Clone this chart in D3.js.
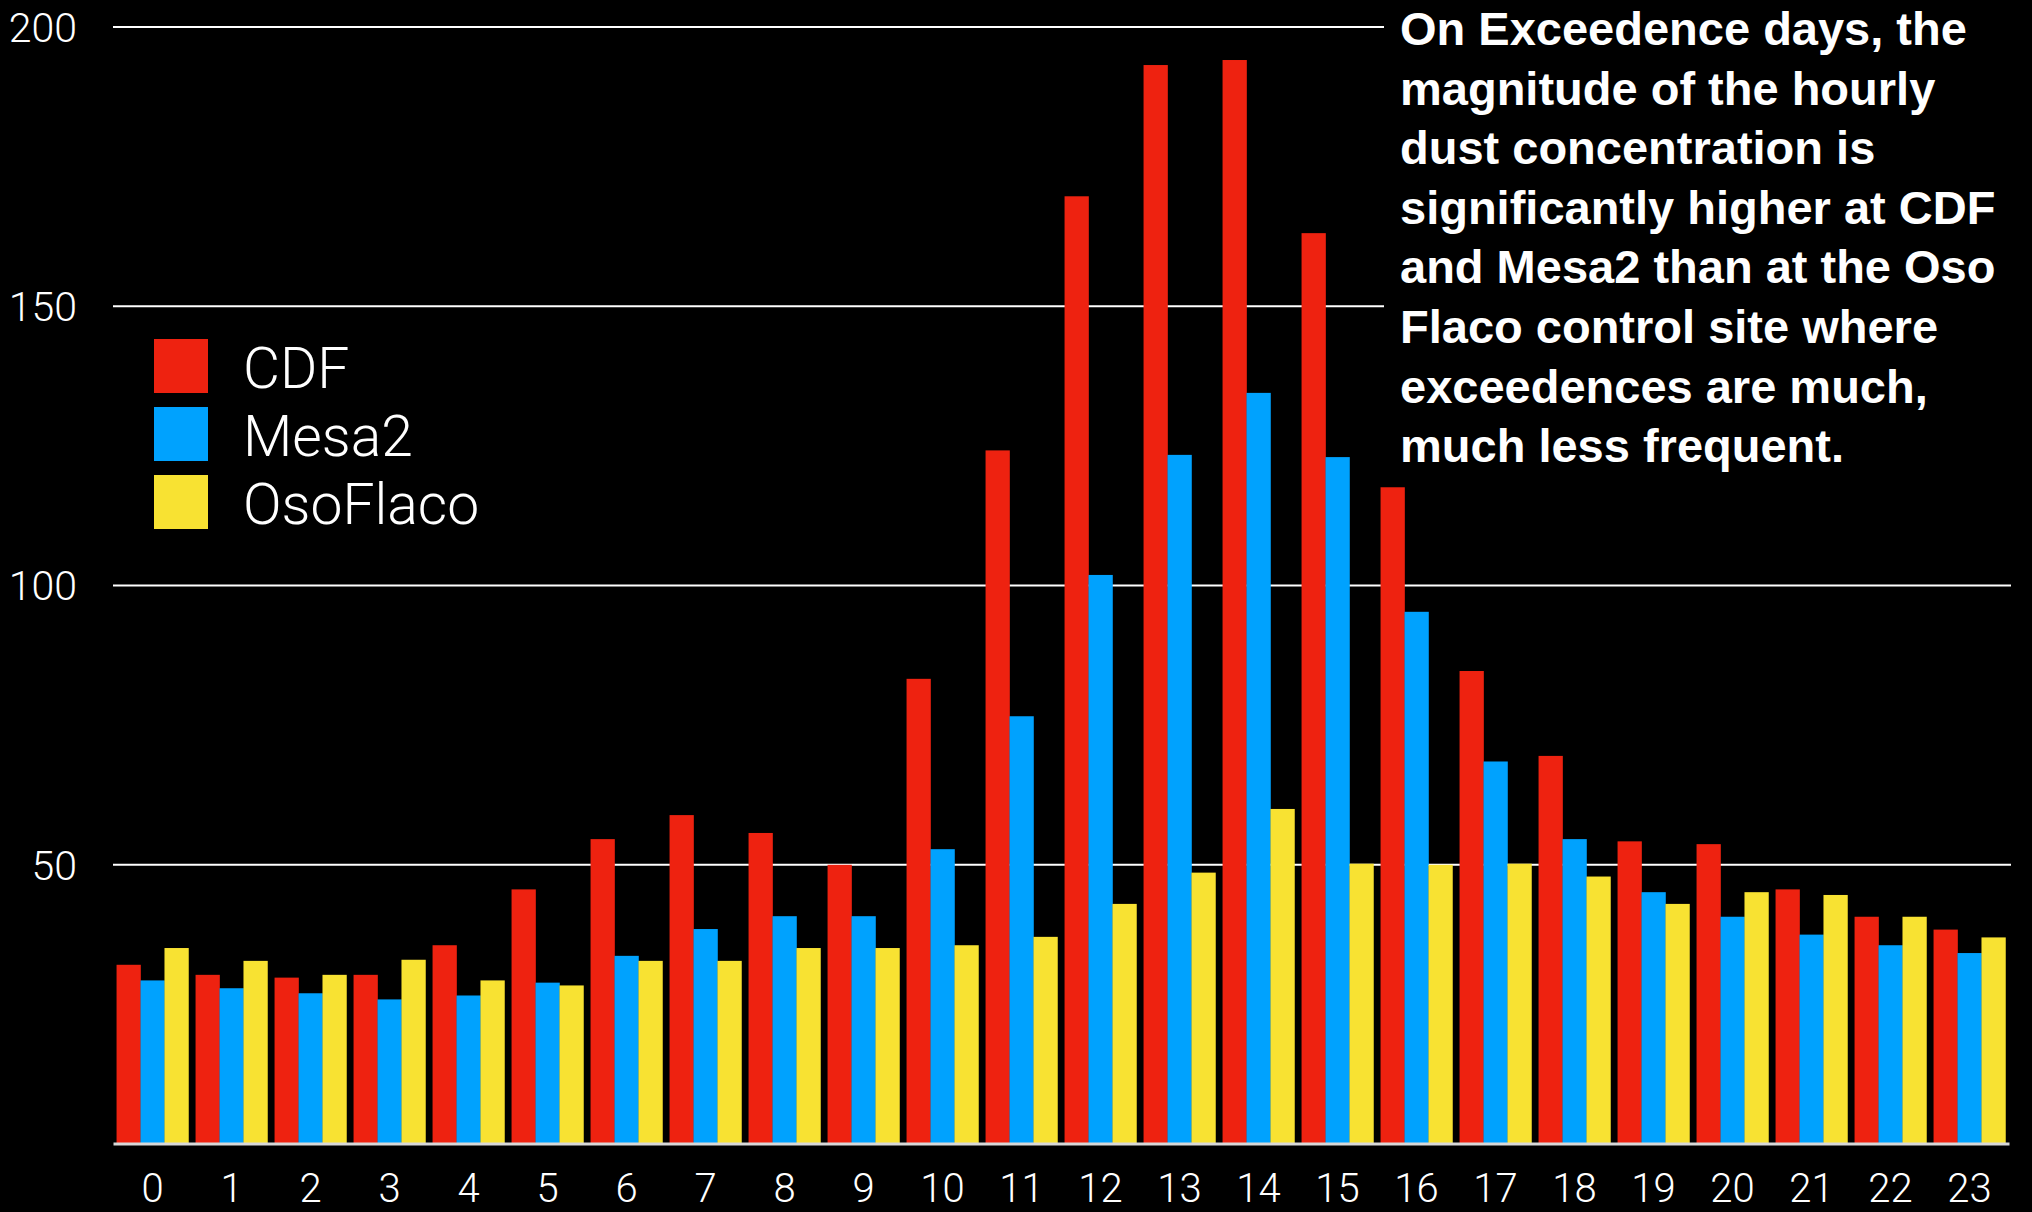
<!DOCTYPE html>
<html>
<head>
<meta charset="utf-8">
<script src="https://cdn.jsdelivr.net/npm/d3@7/dist/d3.min.js"></script>
<style>
  html, body { margin: 0; padding: 0; background: #000; }
  svg { display: block; }
  .light { font-family: "Helvetica Neue", Roboto, "Liberation Sans", sans-serif; font-weight: 300; }
</style>
</head>
<body>
<div id="chart"></div>
<script>
// hours of the day
const hours = d3.range(24).map(String);

const seriesNames = ["CDF", "Mesa2", "OsoFlaco"];
const seriesColors = ["#ee2210", "#00a2fe", "#f8e232"];

// hourly dust concentration on exceedence days
const cdf      = [32.0, 30.2, 29.7, 30.2, 35.5, 45.5, 54.5, 58.8, 55.6, 49.9, 83.2, 124.1,
                  169.6, 193.1, 194.0, 163.0, 117.5, 84.6, 69.4, 54.1, 53.6, 45.5, 40.6, 38.3];
const mesa2    = [29.2, 27.8, 26.9, 25.8, 26.5, 28.8, 33.6, 38.4, 40.7, 40.7, 52.7, 76.5,
                  101.8, 123.3, 134.4, 122.9, 95.2, 68.4, 54.5, 45.0, 40.6, 37.4, 35.5, 34.1];
const osoFlaco = [35.0, 32.7, 30.2, 32.9, 29.2, 28.3, 32.7, 32.7, 35.0, 35.0, 35.5, 37.0,
                  42.9, 48.5, 59.9, 50.1, 49.9, 50.1, 47.8, 42.9, 45.0, 44.5, 40.6, 36.9];

const yTicks = [50, 100, 150, 200];

const noteLines = [
  "On Exceedence days, the",
  "magnitude of the hourly",
  "dust concentration is",
  "significantly higher at CDF",
  "and Mesa2 than at the Oso",
  "Flaco control site where",
  "exceedences are much,",
  "much less frequent."
];

let W = 2032, H = 1212;
let margin = {top: 26.5, right: 23, bottom: 68.5, left: 113};
let width = W - margin.left - margin.right;
let height = H - margin.top - margin.bottom;

// rows for the grouped bars
let rows = hours.map((h, i) => ({
  hour: h,
  values: [cdf[i], mesa2[i], osoFlaco[i]]
}));

let svg = d3.select("#chart").append("svg")
  .attr("width", W)
  .attr("height", H)
  .style("background", "#000");

let g = svg.append("g")
  .attr("transform", "translate(" + margin.left + "," + margin.top + ")");

// scales
let x0 = d3.scaleBand()
  .domain(hours)
  .range([0, width])
  .paddingInner(0.09)
  .paddingOuter(0.045);

let x1 = d3.scaleBand()
  .domain(seriesNames)
  .range([0, x0.bandwidth()]);

let y = d3.scaleLinear()
  .domain([0, 200])
  .range([height, 0]);

let color = d3.scaleOrdinal()
  .domain(seriesNames)
  .range(seriesColors);

// gridlines + y labels
let yAxis = g.append("g")
  .attr("class", "y-axis light")
  .call(d3.axisLeft(y).tickValues(yTicks).tickSize(-width - 2).tickPadding(36));
yAxis.select(".domain").remove();
yAxis.selectAll(".tick line")
  .attr("stroke", "#fff")
  .attr("stroke-width", 2);
yAxis.selectAll(".tick text")
  .attr("fill", "#fff")
  .attr("font-size", 41)
  .attr("font-family", null)
  .attr("dy", "0.36em");

// black box behind the note hides the top gridlines
svg.append("rect")
  .attr("x", 1384)
  .attr("y", 0)
  .attr("width", W - 1384)
  .attr("height", 472)
  .attr("fill", "#000");

// bars
let groups = g.append("g")
  .selectAll("g")
  .data(rows)
  .join("g")
  .attr("transform", d => "translate(" + x0(d.hour) + ",0)");

groups.selectAll("rect")
  .data(d => d.values.map((v, k) => ({key: seriesNames[k], value: v})))
  .join("rect")
  .attr("x", d => x1(d.key))
  .attr("y", d => y(d.value))
  .attr("width", x1.bandwidth() + 0.3)
  .attr("height", d => height - y(d.value))
  .attr("fill", d => color(d.key));

// x axis
let xAxis = g.append("g")
  .attr("class", "x-axis light")
  .attr("transform", "translate(0," + height + ")")
  .call(d3.axisBottom(x0).tickSize(0).tickPadding(30));
xAxis.select(".domain")
  .attr("stroke", "#d8d8d8")
  .attr("stroke-width", 3);
xAxis.selectAll(".tick text")
  .attr("fill", "#fff")
  .attr("font-size", 40)
  .attr("font-family", null);

// legend
let legend = svg.append("g")
  .attr("class", "light")
  .selectAll("g")
  .data(seriesNames)
  .join("g")
  .attr("transform", (d, i) => "translate(154," + (339 + i * 68) + ")");

legend.append("rect")
  .attr("width", 54)
  .attr("height", 54)
  .attr("fill", d => color(d));

legend.append("text")
  .attr("x", 89)
  .attr("y", 49)
  .attr("fill", "#fff")
  .attr("font-size", 57)
  .text(d => d);

// note on the right
svg.append("text")
  .attr("x", 1400)
  .attr("y", 45)
  .attr("fill", "#fff")
  .attr("font-family", "'Helvetica Neue', 'Liberation Sans', Arial, sans-serif")
  .attr("font-weight", "bold")
  .attr("font-size", 47)
  .selectAll("tspan")
  .data(noteLines)
  .join("tspan")
  .attr("x", 1400)
  .attr("dy", (d, i) => i === 0 ? 0 : 59.6)
  .text(d => d);
</script>
</body>
</html>
